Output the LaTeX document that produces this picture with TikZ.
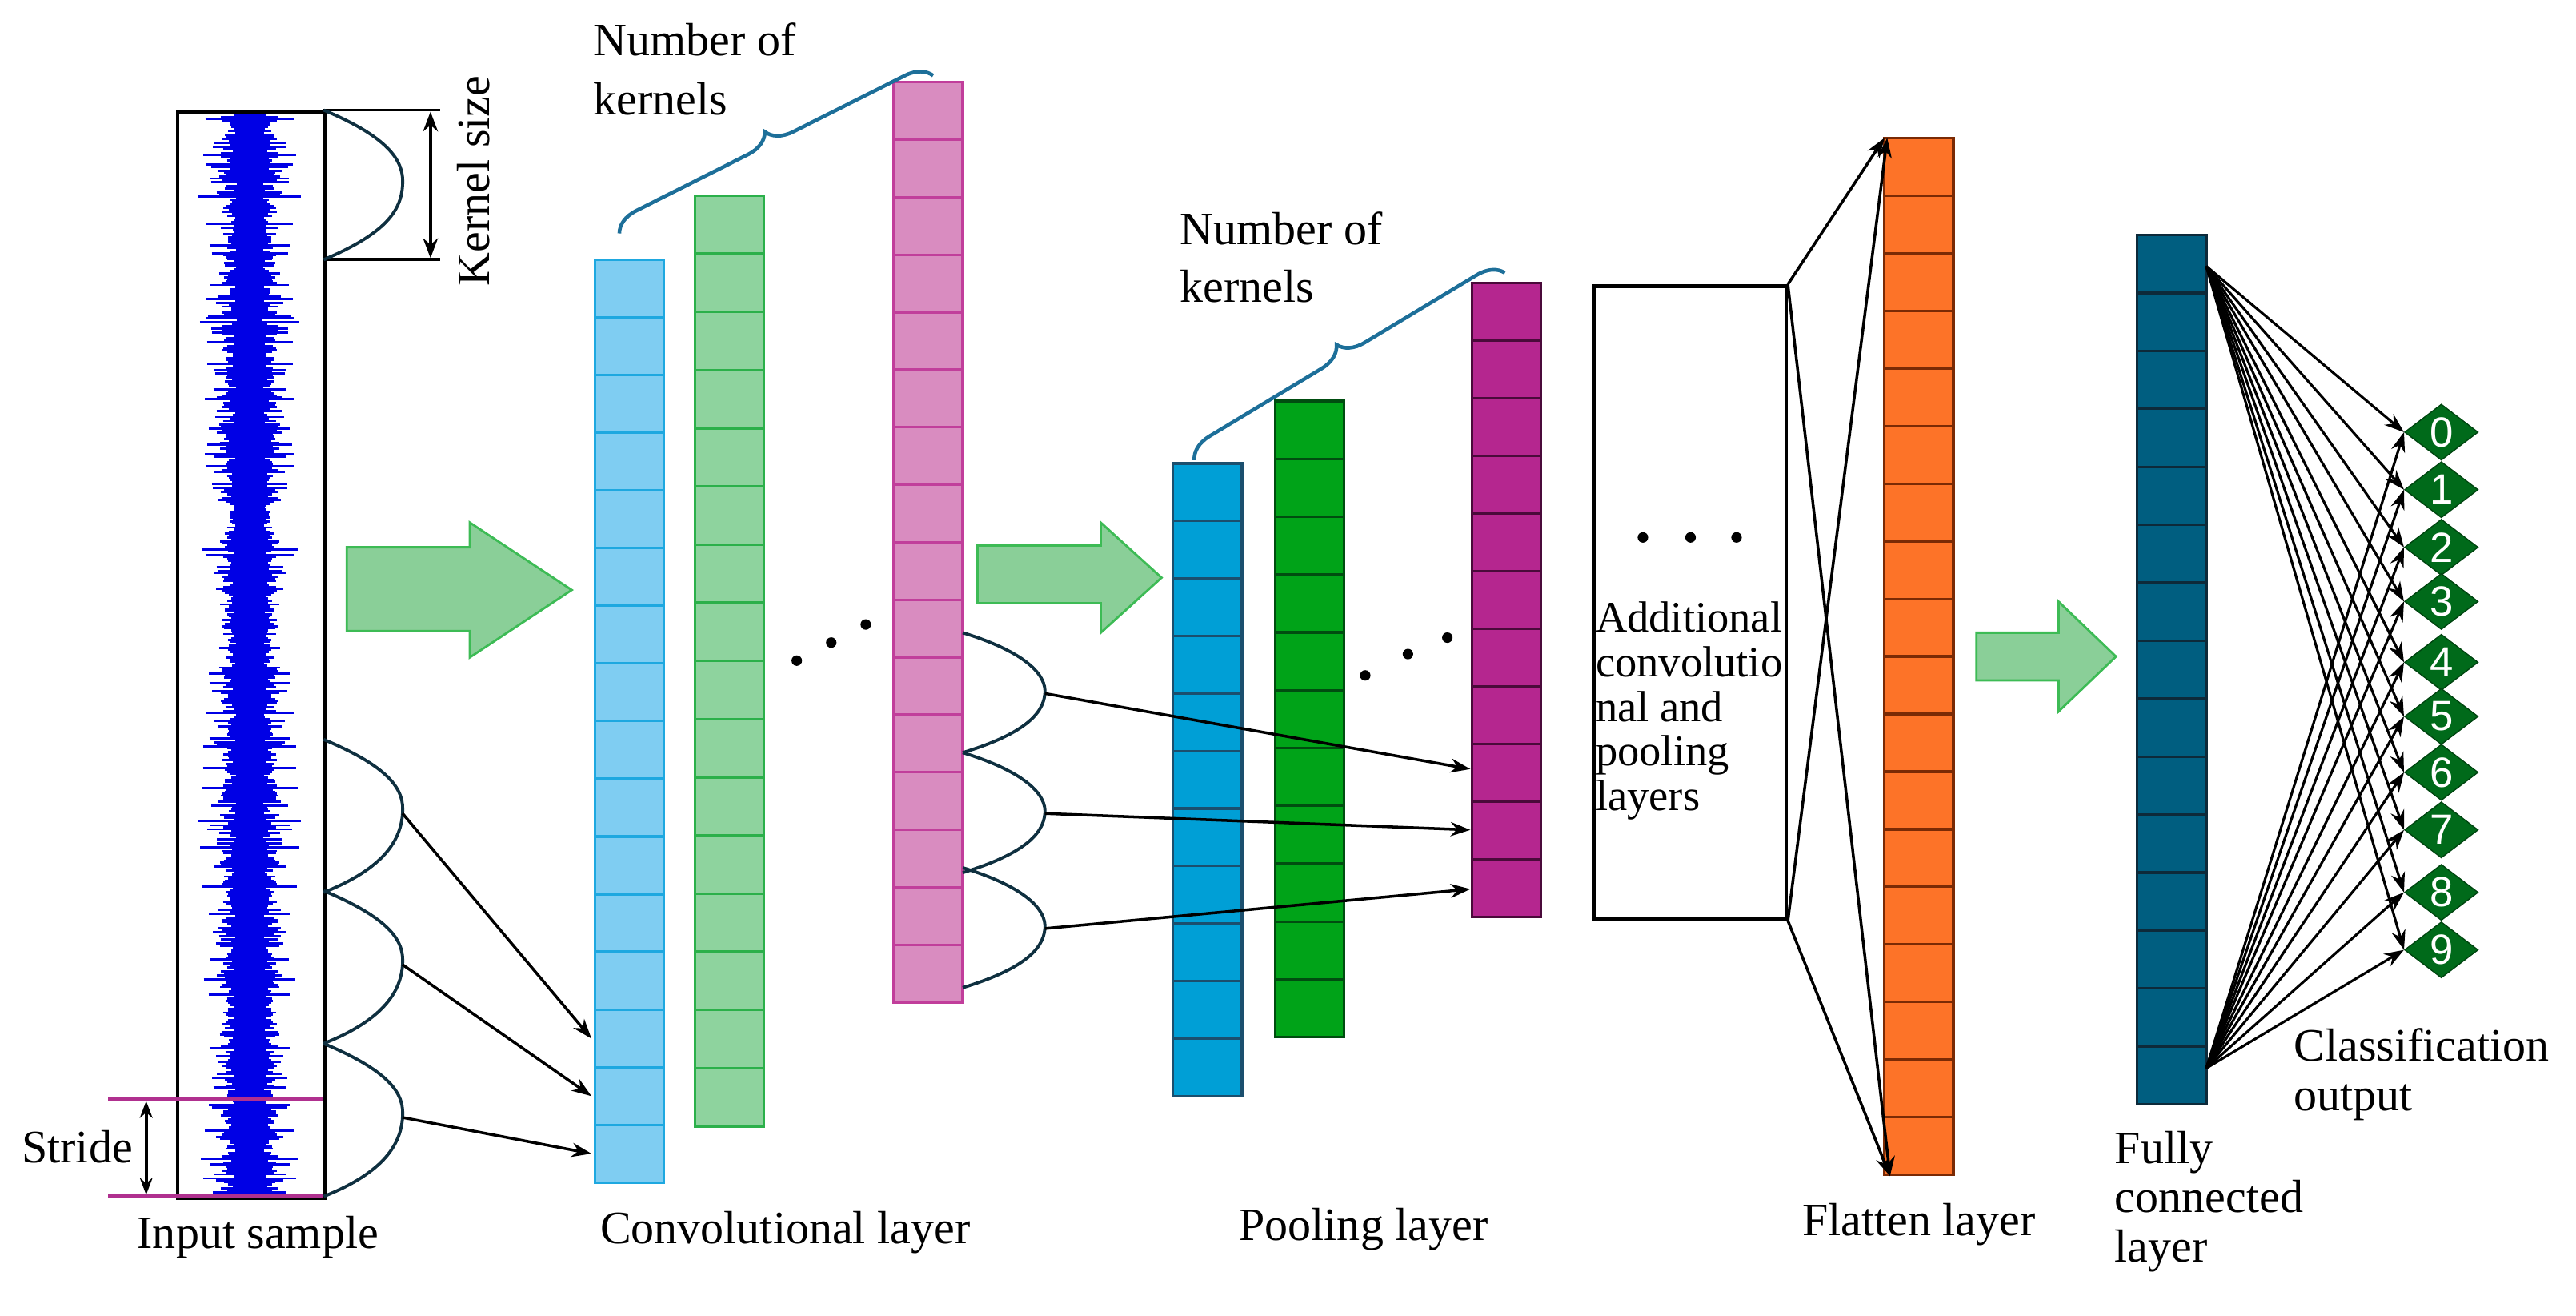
\documentclass[tikz,border=0pt]{standalone}
\usepackage{fontspec}
\setmainfont{Liberation Serif}
\newfontfamily\digitfont{Liberation Sans}
\usetikzlibrary{shapes.geometric,arrows.meta,decorations.pathreplacing}
\definecolor{cbF}{HTML}{7FCDF2}\definecolor{cbD}{HTML}{1EA8E0}
\definecolor{cgF}{HTML}{8ED39E}\definecolor{cgD}{HTML}{2BB04A}
\definecolor{cpF}{HTML}{D98CC0}\definecolor{cpD}{HTML}{C13E9B}
\definecolor{pbF}{HTML}{009FD6}\definecolor{pbD}{HTML}{1B4F6E}
\definecolor{pgF}{HTML}{00A318}\definecolor{pgD}{HTML}{004D10}
\definecolor{pmF}{HTML}{B5268F}\definecolor{pmD}{HTML}{4A0A3A}
\definecolor{orF}{HTML}{FD7328}\definecolor{orD}{HTML}{7A2A05}
\definecolor{fcF}{HTML}{005E80}\definecolor{fcD}{HTML}{0D2A3A}
\definecolor{dmF}{HTML}{006A1A}\definecolor{dmD}{HTML}{004510}
\definecolor{brc}{HTML}{1D6F99}\definecolor{curv}{HTML}{0F3040}
\definecolor{strc}{HTML}{B0308F}\definecolor{gaF}{HTML}{8ACF98}\definecolor{gaD}{HTML}{3DBB55}
\newcommand\mycol[7]{% name,x,ytop,n,h,fill,draw
  \node[inner sep=0pt,minimum width=0.862cm,minimum height={#4*#5*0.02053cm},anchor=north west] (#1) at (#2,#3) {};
  \foreach \i in {1,...,#4}{\draw[fill=#6,draw=#7,line width=0.9pt] (#2,{#3+(\i-1)*#5}) rectangle ++(42,#5);}
}
% fat arrow: x0, x1(head start), x2(tip), shaft top, shaft bottom, head top, head bottom
\newcommand\fatarrow[7]{%
  \draw[draw=gaD,fill=gaF,line width=0.8pt] (#1,#4) -- (#2,#4) -- (#2,#6) -- (#3,{(#6+#7)/2}) -- (#2,#7) -- (#2,#5) -- (#1,#5) -- cycle;}
\tikzset{lbl/.style={font=\fontsize{16.5}{19}\selectfont,inner sep=0pt},
  con/.style={-{Stealth[length=7pt,width=5pt]},line width=1pt},
  kcurve/.style={draw=curv,line width=1.1pt},
  digit/.style={diamond,draw=dmD,fill=dmF,text=white,inner sep=0pt,minimum width=0.92cm,minimum height=0.7cm,font=\digitfont\fontsize{15}{15}\selectfont},
  brace/.style={draw=brc,line width=1.3pt,decorate,decoration={brace,amplitude=9pt}}}
\begin{document}
\begin{tikzpicture}[x=0.02053cm,y=-0.02053cm]
\useasboundingbox (0,0) rectangle (1568,800.8);
% input waveform
\pgfmathsetseed{7}
\foreach \y in {69,70.2,...,727}{
  \pgfmathsetmacro\w{8+9*rnd+ 16*(rnd^5)}
  \draw[blue!90!black,line width=0.8pt] ({152-\w},\y) -- ({152+\w},\y);
}
\draw[blue!90!black,line width=5pt] (152,68) -- (152,727);
\node[draw=black,line width=1.3pt,inner sep=0pt,minimum width={90*0.02053cm},minimum height={661*0.02053cm},anchor=north west] (inp) at (107,67) {};
% kernel size
\draw[line width=1.1pt] (197,67) -- (268,67) (197,158) -- (268,158);
\draw[kcurve] (197,67) .. controls (240,85) and (246,100) .. (245,113) .. controls (244,128) and (235,142) .. (197,158);
\draw[{Stealth[length=7pt]}-{Stealth[length=7pt]},line width=1.1pt] (262,68) -- (262,157);
\node[lbl,rotate=90] (ks) at (288,110) {Kernel size};
% stride
\draw[strc,line width=1.3pt] (66,669) -- (197,669) (66,728) -- (197,728);
\draw[{Stealth[length=6pt]}-{Stealth[length=6pt]},line width=1.1pt] (89,670) -- (89,727);
\node[lbl] (stride) at (47,698) {Stride};
\node[lbl] (inlbl) at (157,753) {Input sample};
% lower kernel curves
\foreach \a/\t in {450/k1,542/k2,635/k3}{
  \draw[kcurve] (197,\a) .. controls (240,{\a+18}) and (246,{\a+32}) .. (245,{\a+45}) coordinate (\t) .. controls (244,{\a+60}) and (235,{\a+78}) .. (197,{\a+93});
}
% conv columns
\mycol{cb}{362}{158}{16}{35.1}{cbF}{cbD}
\mycol{cg}{423}{119}{16}{35.4}{cgF}{cgD}
\mycol{cp}{544}{50}{16}{35}{cpF}{cpD}
\coordinate (cb1) at (360,632);\coordinate (cb2) at (360,667);\coordinate (cb3) at (360,702);
\draw[con] (k1) -- (cb1); \draw[con] (k2) -- (cb2); \draw[con] (k3) -- (cb3);
\foreach \x/\y in {485/402,506/391,527/380}{\fill (\x,\y) circle (3.2);}
\draw[brace] (377,142) -- (568,46);
\node[lbl,anchor=west] (nk1a) at (361,24) {Number of};
\node[lbl,anchor=west] (nk1b) at (361,60) {kernels};
\node[lbl] (convlbl) at (478,750) {Convolutional layer};
\fatarrow{211}{286}{348}{333}{384}{318}{400}
% curves off pink column
\foreach \a/\t in {385/p1,458/p2,528/p3}{
  \draw[kcurve] (586,\a) .. controls (625,{\a+12}) and (637,{\a+26}) .. (636,{\a+37}) coordinate (\t) .. controls (635,{\a+50}) and (622,{\a+62}) .. (586,{\a+73});
}
% pooling columns
\mycol{pb}{714}{282}{11}{35}{pbF}{pbD}
\mycol{pg}{776}{244}{11}{35.2}{pgF}{pgD}
\mycol{pm}{896}{172}{11}{35.1}{pmF}{pmD}
\coordinate (pm1) at (895,468);\coordinate (pm2) at (895,505);\coordinate (pm3) at (895,541);
\draw[con] (p1) -- (pm1); \draw[con] (p2) -- (pm2); \draw[con] (p3) -- (pm3);
\fatarrow{595}{670}{707}{332}{367}{318}{385}
\foreach \x/\y in {831/411,857/398,881/388}{\fill (\x,\y) circle (3.2);}
\draw[brace] (727,280) -- (916,166);
\node[lbl,anchor=west] (nk2a) at (718,139) {Number of};
\node[lbl,anchor=west] (nk2b) at (718,174) {kernels};
\node[lbl] (poollbl) at (830,748) {Pooling layer};
% additional box
\node[draw=black,line width=1.3pt,inner sep=0pt,minimum width={117*0.02053cm},minimum height={385*0.02053cm},anchor=north west] (add) at (969,173) {};
\foreach \x in {1000,1029,1057}{\fill (\x,327) circle (3.2);}
\node[lbl,anchor=north west,align=left,font=\fontsize{15.5}{15.8}\selectfont] (addt) at (971,366) {Additional\\convolutio\\nal and\\pooling\\layers};
% flatten
\mycol{fl}{1147}{84}{18}{35.05}{orF}{orD}
\draw[con] (add.north east) -- (fl.north west);
\draw[con] (add.north east) -- ([xshift=2pt]fl.south west);
\draw[con] (add.south east) -- ([xshift=1pt]fl.north west);
\draw[con] (add.south east) -- ([xshift=2pt]fl.south west);
\node[lbl] (fllbl) at (1168,745) {Flatten layer};
\fatarrow{1203}{1253}{1288}{385}{414}{366}{433}
% fully connected
\mycol{fc}{1301}{143}{15}{35.27}{fcF}{fcD}
\coordinate (fct) at (1343,162); \coordinate (fcb) at (1343,650);
\foreach \d/\y in {0/263,1/298,2/333,3/366,4/403,5/436,6/470,7/505,8/543,9/578}{
  \node[digit] (d\d) at (1486,\y) {\d};
}
\foreach \d in {0,...,9}{
  \draw[con,line width=0.9pt] (fct) -- (d\d.west);
  \draw[con,line width=0.9pt] (fcb) -- (d\d.west);
}
\node[lbl,anchor=west] (cl1) at (1396,636) {Classification};
\node[lbl,anchor=west] (cl2) at (1396,671) {output};
\node[lbl,anchor=north west,align=left,font=\fontsize{16.5}{17.5}\selectfont] (fclbl) at (1287,688) {Fully\\connected\\layer};
\end{tikzpicture}
\end{document}
